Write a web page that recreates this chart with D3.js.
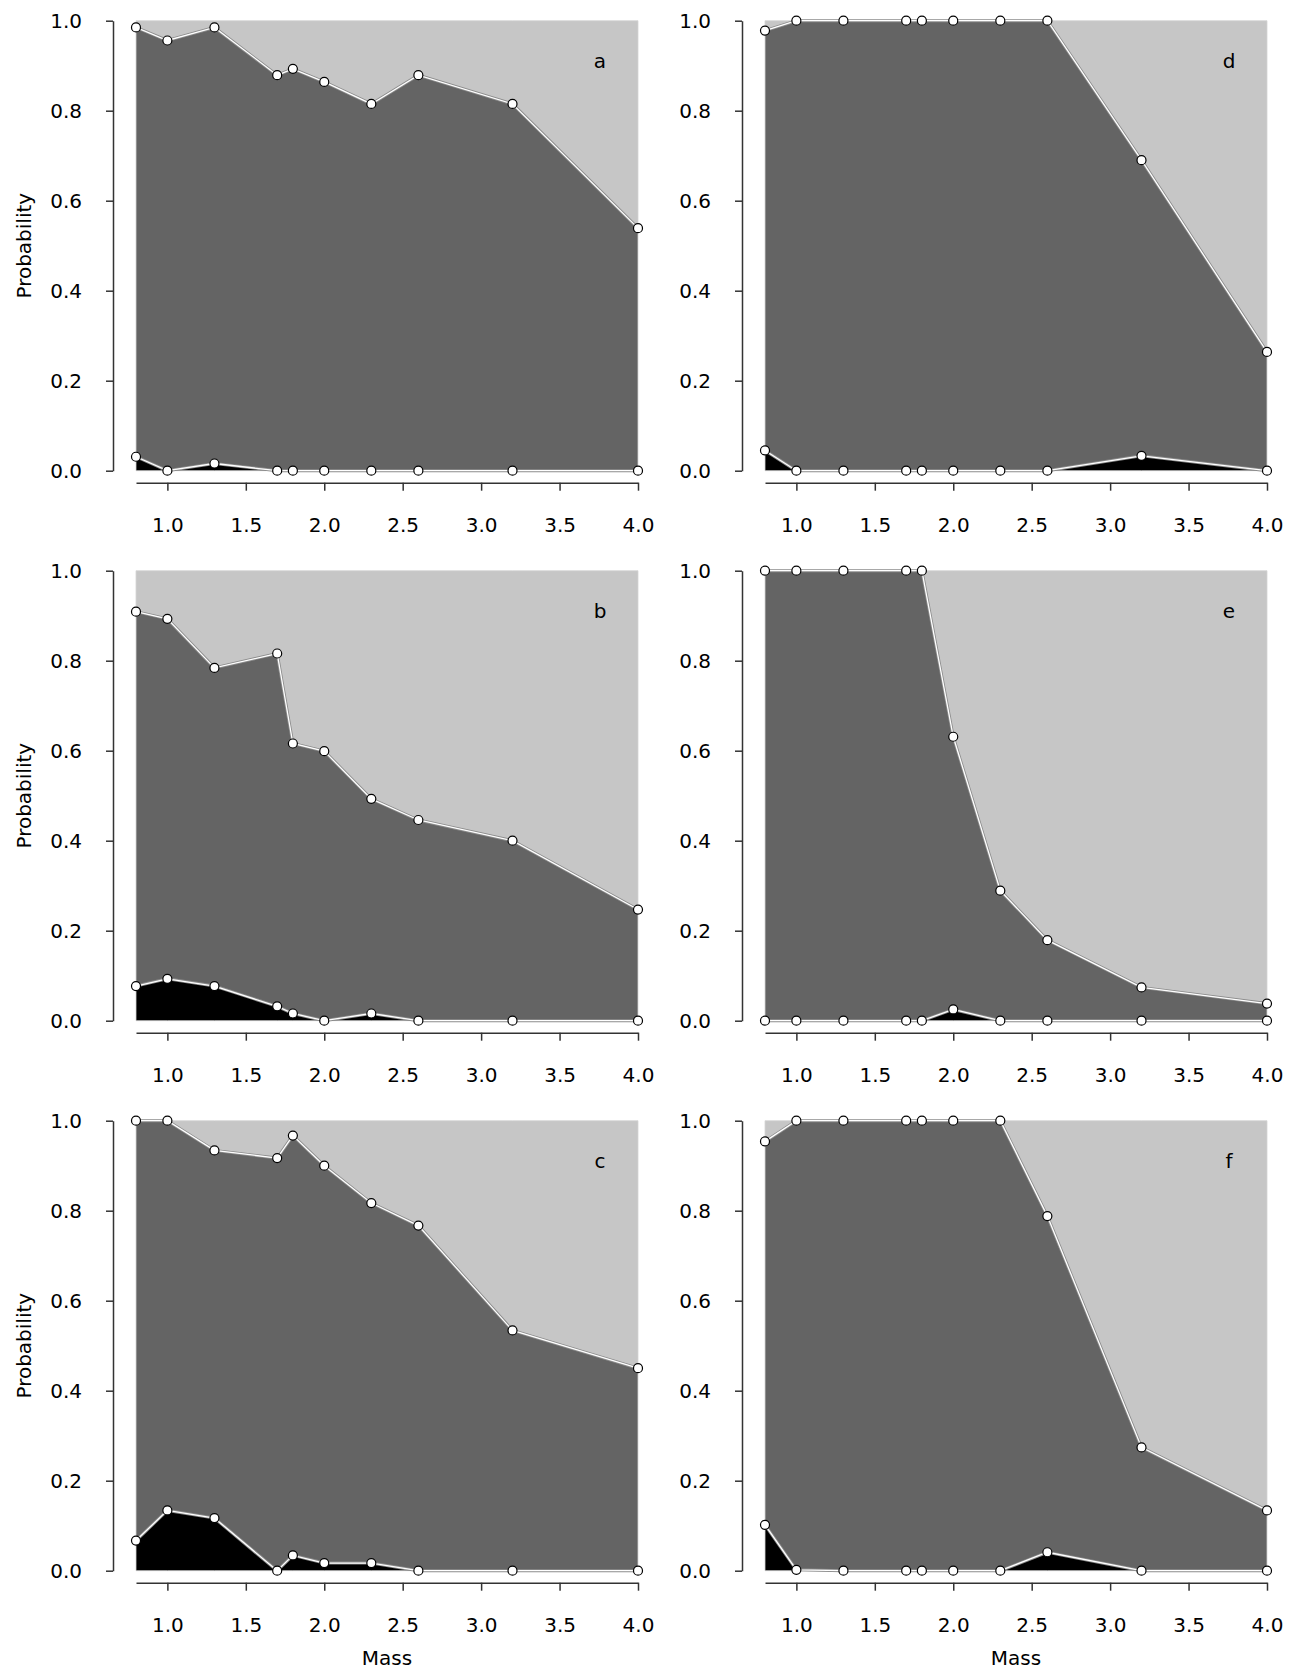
<!DOCTYPE html>
<html>
<head>
<meta charset="utf-8">
<script src="https://cdn.jsdelivr.net/npm/d3@7"></script>
<style>
  body { margin: 0; background: #fff; }
  text { font-family: "DejaVu Sans", sans-serif; fill: #000; }
</style>
</head>
<body>
<svg width="1296" height="1669"></svg>
<script>
// masses sampled in every panel
var mass = [0.8, 1.0, 1.3, 1.7, 1.8, 2.0, 2.3, 2.6, 3.2, 4.0];

// lower = top of the black band, upper = top of the dark grey band
var lowerA = [0.031, 0, 0.016, 0, 0, 0, 0, 0, 0, 0];
var upperA = [0.985, 0.956, 0.985, 0.879, 0.893, 0.864, 0.815, 0.879, 0.815, 0.539];

var lowerB = [0.077, 0.093, 0.077, 0.032, 0.016, 0, 0.016, 0, 0, 0];
var upperB = [0.909, 0.893, 0.784, 0.816, 0.616, 0.599, 0.493, 0.446, 0.400, 0.247];

var lowerC = [0.067, 0.134, 0.117, 0, 0.034, 0.017, 0.017, 0, 0, 0];
var upperC = [1.0, 1.0, 0.934, 0.917, 0.967, 0.900, 0.817, 0.767, 0.534, 0.450];

var lowerD = [0.045, 0, 0, 0, 0, 0, 0, 0, 0.033, 0];
var upperD = [0.978, 1.0, 1.0, 1.0, 1.0, 1.0, 1.0, 1.0, 0.690, 0.264];

var lowerE = [0, 0, 0, 0, 0, 0.025, 0, 0, 0, 0];
var upperE = [1.0, 1.0, 1.0, 1.0, 1.0, 0.631, 0.289, 0.179, 0.074, 0.038];

var lowerF = [0.102, 0.002, 0, 0, 0, 0, 0, 0.041, 0, 0];
var upperF = [0.954, 1.0, 1.0, 1.0, 1.0, 1.0, 1.0, 0.788, 0.274, 0.134];

var yTicks = [0, 0.2, 0.4, 0.6, 0.8, 1.0];
var xTicks = [1.0, 1.5, 2.0, 2.5, 3.0, 3.5, 4.0];

var panels = [
  {label: "a", lower: lowerA, upper: upperA, col: 0, row: 0},
  {label: "b", lower: lowerB, upper: upperB, col: 0, row: 1},
  {label: "c", lower: lowerC, upper: upperC, col: 0, row: 2},
  {label: "d", lower: lowerD, upper: upperD, col: 1, row: 0},
  {label: "e", lower: lowerE, upper: upperE, col: 1, row: 1},
  {label: "f", lower: lowerF, upper: upperF, col: 1, row: 2}
];

var svg = d3.select("svg");
var colX = [136, 765], plotW = 502,
    rowY = [20.7, 570.7, 1120.7], plotH = 450;

panels.forEach(function(p) {
  var left = colX[p.col], top = rowY[p.row];
  var g = svg.append("g").attr("transform", "translate(" + left + "," + top + ")");

  var x = d3.scaleLinear().domain([0.8, 4.0]).range([0, plotW]),
      y = d3.scaleLinear().domain([0, 1]).range([plotH, 0]);

  var rows = mass.map(function(m, i) { return {m: m, lo: p.lower[i], hi: p.upper[i]}; });

  var layers = [
    {fill: "#000000", y0: function() { return 0; }, y1: function(d) { return d.lo; }},
    {fill: "#646464", y0: function(d) { return d.lo; }, y1: function(d) { return d.hi; }},
    {fill: "#c6c6c6", y0: function(d) { return d.hi; }, y1: function() { return 1; }}
  ];

  layers.forEach(function(l) {
    var area = d3.area()
      .x(function(d) { return x(d.m); })
      .y0(function(d) { return y(l.y0(d)); })
      .y1(function(d) { return y(l.y1(d)); });
    g.append("path")
      .datum(rows)
      .attr("d", area)
      .attr("fill", l.fill)
      .attr("stroke", "#d4d4d4")
      .attr("stroke-width", 0.8);
  });

  // boundary lines: grey casing with white core
  ["lo", "hi"].forEach(function(k) {
    var line = d3.line().x(function(d) { return x(d.m); }).y(function(d) { return y(d[k]); });
    g.append("path").datum(rows).attr("d", line)
      .attr("fill", "none").attr("stroke", "#8c8c8c").attr("stroke-width", 3);
    g.append("path").datum(rows).attr("d", line)
      .attr("fill", "none").attr("stroke", "#ffffff").attr("stroke-width", 1.3);
  });

  ["lo", "hi"].forEach(function(k) {
    g.selectAll(".pt-" + k)
      .data(rows)
      .enter().append("circle")
      .attr("class", "pt-" + k)
      .attr("cx", function(d) { return x(d.m); })
      .attr("cy", function(d) { return y(d[k]); })
      .attr("r", 4.5)
      .attr("fill", "#fff")
      .attr("stroke", "#000")
      .attr("stroke-width", 1.2);
  });

  g.append("text")
    .attr("x", plotW - 38)
    .attr("y", 47.3)
    .attr("text-anchor", "middle")
    .style("font-size", "20px")
    .text(p.label);

  // y axis
  var ya = svg.append("g")
    .attr("transform", "translate(" + (left - 23) + "," + top + ")")
    .call(d3.axisLeft(y).tickValues(yTicks).tickFormat(d3.format(".1f"))
      .tickSize(7).tickSizeOuter(0).tickPadding(24));
  // x axis
  var xa = svg.append("g")
    .attr("transform", "translate(" + left + "," + (top + plotH + 12) + ")")
    .call(d3.axisBottom(x).tickValues(xTicks).tickFormat(d3.format(".1f"))
      .tickSize(8).tickSizeOuter(0));
  xa.selectAll("text").attr("y", 42).attr("dy", "0.36em");

  [ya, xa].forEach(function(a) {
    a.select(".domain").attr("stroke", "#333").attr("stroke-width", 1.5);
    a.selectAll(".tick line").attr("stroke", "#333").attr("stroke-width", 1.5);
    a.selectAll("text").style("font-size", "20px").style("font-family", "DejaVu Sans, sans-serif").attr("fill", "#000");
  });

  if (p.col === 0) {
    svg.append("text")
      .attr("transform", "translate(24," + (top + plotH / 2) + ") rotate(-90)")
      .attr("text-anchor", "middle")
      .attr("dy", "0.35em")
      .style("font-size", "20px")
      .text("Probability");
  }
  if (p.row === 2) {
    svg.append("text")
      .attr("x", left + plotW / 2)
      .attr("y", top + plotH + 12 + 75)
      .attr("text-anchor", "middle")
      .attr("dy", "0.36em")
      .style("font-size", "20px")
      .text("Mass");
  }
});
</script>
</body>
</html>
